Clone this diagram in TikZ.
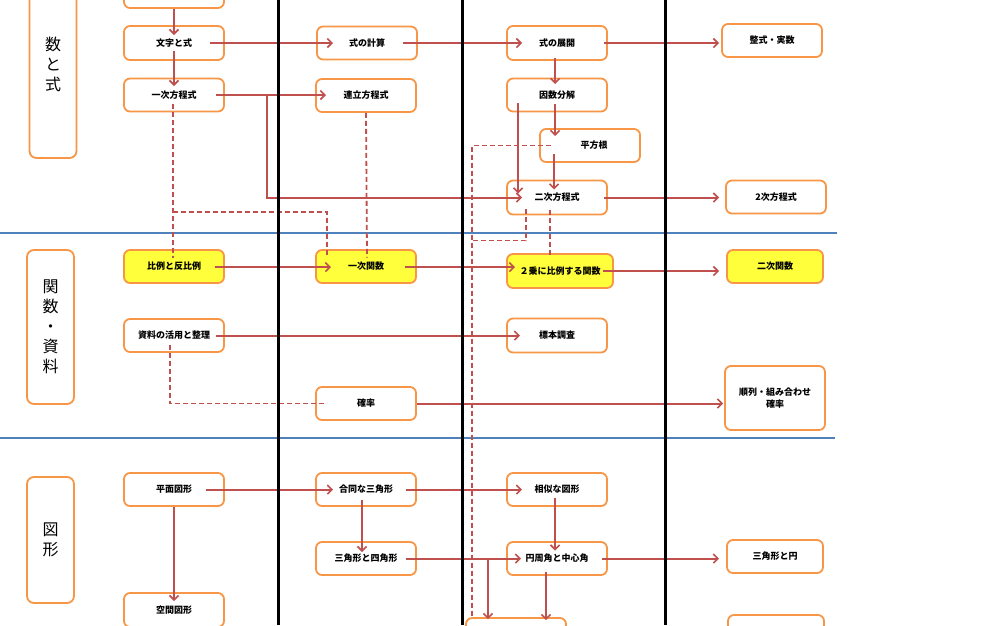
\documentclass[tikz,border=0pt]{standalone}
\usepackage{fontspec}
\setmainfont{Noto Sans CJK JP}
\usetikzlibrary{arrows.meta,calc}
\definecolor{boxor}{HTML}{F79646}
\definecolor{arrred}{HTML}{C0504D}
\definecolor{lineblue}{HTML}{4F81BD}
\definecolor{hiyel}{HTML}{FFFF3C}
\tikzset{
  boxn/.style={draw=boxor, line width=1.8pt, rounded corners=6pt, fill=white,
    minimum width=100pt, minimum height=33pt, inner sep=1pt, align=center,
    font=\fontsize{9}{12}\selectfont\bfseries},
  ylw/.style={boxn, fill=hiyel},
  catbox/.style={draw=boxor, line width=1.8pt, rounded corners=7pt, fill=white,
    minimum width=47pt, inner sep=0pt, align=center,
    font=\fontsize{16}{20}\selectfont},
  arr/.style={draw=arrred, line width=2pt, -{Straight Barb[length=4.5pt,width=9pt,line width=1.6pt]}},
  dsh/.style={draw=arrred, line width=1.8pt, dash pattern=on 5pt off 3pt},
  sep/.style={line width=3pt, black},
  band/.style={line width=2.8pt, lineblue}
}
\begin{document}
\begin{tikzpicture}[x=1pt,y=-1pt]
\useasboundingbox (0,0) rectangle (1000,625);
% band separators
\draw[band] (0,233) -- (837,233);
\draw[band] (0,438) -- (835,438);
% category boxes
\node[catbox, minimum height=188pt] (cat1) at (53,64) {数\\と\\式};
\node[catbox, minimum height=154pt] (cat2) at (50.5,327) {関\\数\\・\\資\\料};
\node[catbox, minimum height=126pt] (cat3) at (50.5,540) {図\\形};
% column 1
\node[boxn, minimum height=40pt] (top0) at (174,-12) {};
\node[boxn, minimum height=34pt] (mw) at (174,43) {文字と式};
\node[boxn] (ichiji) at (174,95) {一次方程式};
\node[ylw] (hirei) at (174,266.5) {比例と反比例};
\node[boxn] (shiryo) at (174,335.5) {資料の活用と整理};
\node[boxn] (heimen) at (174,489.5) {平面図形};
\node[boxn, minimum height=34pt] (kukan) at (174,610) {空間図形};
% column 2
\node[boxn] (keisan) at (367,43) {式の計算};
\node[boxn] (renritsu) at (366,95.5) {連立方程式};
\node[ylw] (ichijikansu) at (366,266.5) {一次関数};
\node[boxn] (kakuritsu) at (366,403.5) {確率};
\node[boxn] (goudou) at (366,489.5) {合同な三角形};
\node[boxn] (sankaku) at (366,558.5) {三角形と四角形};
% column 3
\node[boxn, minimum height=34pt] (tenkai) at (557,43) {式の展開};
\node[boxn] (insu) at (557,95) {因数分解};
\node[boxn] (heihou) at (590,145.5) {\hspace*{8pt}平方根};
\node[boxn, minimum height=34pt] (niji) at (557,197.5) {二次方程式};
\node[ylw, minimum width=106pt, minimum height=34pt] (nijo) at (560,271) {２乗に比例する関数};
\node[boxn, minimum height=34pt] (hyohon) at (557,335.5) {標本調査};
\node[boxn] (soji) at (557,489.5) {相似な図形};
\node[boxn] (enshu) at (557,558.5) {円周角と中心角};
\node[boxn, minimum height=34pt] (bot3) at (516,635) {};
% column 4
\node[boxn] (seishiki) at (772,40.5) {整式・実数};
\node[boxn] (niji2) at (776,197) {2次方程式};
\node[ylw, minimum width=96pt] (nijikansu) at (775,266.5) {二次関数};
\node[boxn, minimum height=64pt] (junretsu) at (775,398) {順列・組み合わせ\\確率};
\node[boxn, minimum width=96pt] (sankakuen) at (775,556.5) {三角形と円};
\node[boxn, minimum width=96pt, minimum height=34pt] (bot4) at (776,632) {};
% solid connectors
\draw[arr] (top0.south) -- ($(mw)+(0,-8)$);
\draw[arr] ($(mw)+(0,8)$) -- ($(ichiji)+(0,-9)$);
\draw[arr] ($(mw)+(36,0)$) -- ($(keisan)+(-34,0)$);
\draw[arr] ($(keisan)+(36,0)$) -- ($(tenkai)+(-35,0)$);
\draw[arr] ($(tenkai)+(47,0)$) -- ($(seishiki)+(-53,2.5)$);
\draw[arr] ($(ichiji)+(42,0)$) -- ($(renritsu)+(-40,-0.5)$);
\draw[arr] ($(ichiji)+(93,0)$) |- ($(niji)+(-35,0)$);
\draw[arr] ($(tenkai)+(-2,15)$) -- ($(insu)+(-2,-11)$);
\draw[arr] ($(insu)+(-2,9)$) -- ($(heihou)+(-35,-9.5)$);
\draw[arr] ($(insu)+(-39,8)$) -- ($(niji)+(-39,-4)$);
\draw[arr] ($(heihou)+(-36,8.5)$) -- ($(niji)+(-3,-8)$);
\draw[arr] ($(niji)+(47,0)$) -- ($(niji2)+(-57,0.5)$);
\draw[arr] ($(hirei)+(41,0.5)$) -- ($(ichijikansu)+(-35,0.5)$);
\draw[arr] ($(ichijikansu)+(39,0.5)$) -- ($(nijo)+(-45,-4)$);
\draw[arr] ($(nijo)+(43,0)$) -- ($(nijikansu)+(-56,4.5)$);
\draw[arr] ($(shiryo)+(42,0)$) -- ($(hyohon)+(-37,0)$);
\draw[arr] (kakuritsu.east) -- ([xshift=-1pt]kakuritsu.east -| junretsu.west);
\draw[arr] ($(heimen)+(32,0)$) -- ($(goudou)+(-33,0)$);
\draw[arr] (heimen.south) -- ($(kukan)+(0,-9)$);
\draw[arr] ($(goudou)+(40,0)$) -- ($(soji)+(-35,0)$);
\draw[arr] ($(goudou)+(-4,10)$) -- ($(sankaku)+(-4,-6.5)$);
\draw[arr] ($(sankaku)+(40,0)$) -- ($(enshu)+(-36,0)$);
\draw[arr] ($(enshu)+(-69,0)$) -- ($(bot3.north)+(-28,2)$);
\draw[arr] ($(soji)+(-2,8)$) -- ($(enshu)+(-2,-8)$);
\draw[arr] ($(enshu)+(-11,13)$) -- ($(bot3.north)+(30,3)$);
\draw[arr] ($(enshu)+(45,0)$) -- ($(sankakuen)+(-56,2)$);
% dashed connectors
\draw[dsh] ($(ichiji)+(-1,9)$) -- ($(hirei)+(-1,-9)$);
\draw[dsh] ($(hirei)+(-1,-54.5)$) -| ($(ichijikansu)+(-39,-9)$);
\draw[dsh] (renritsu.south) -- ($(ichijikansu)+(1,-9)$);
\draw[dsh] ($(heihou)+(-39,0)$) -| ($(bot3.north)+(-44,0)$);
\draw[dsh] ($(niji)+(-31,11)$) |- ($(niji)+(-85,43)$);
\draw[dsh] ($(niji)+(-7,12)$) -- ($(nijo)+(-10,-15)$);
\draw[dsh] ($(shiryo)+(-4,9)$) |- ($(kakuritsu)+(-39,0)$);
% column separators
\draw[sep] (278,0) -- (278,625);
\draw[sep] (462,0) -- (462,625);
\draw[sep] (665,0) -- (665,625);
\end{tikzpicture}
\end{document}
